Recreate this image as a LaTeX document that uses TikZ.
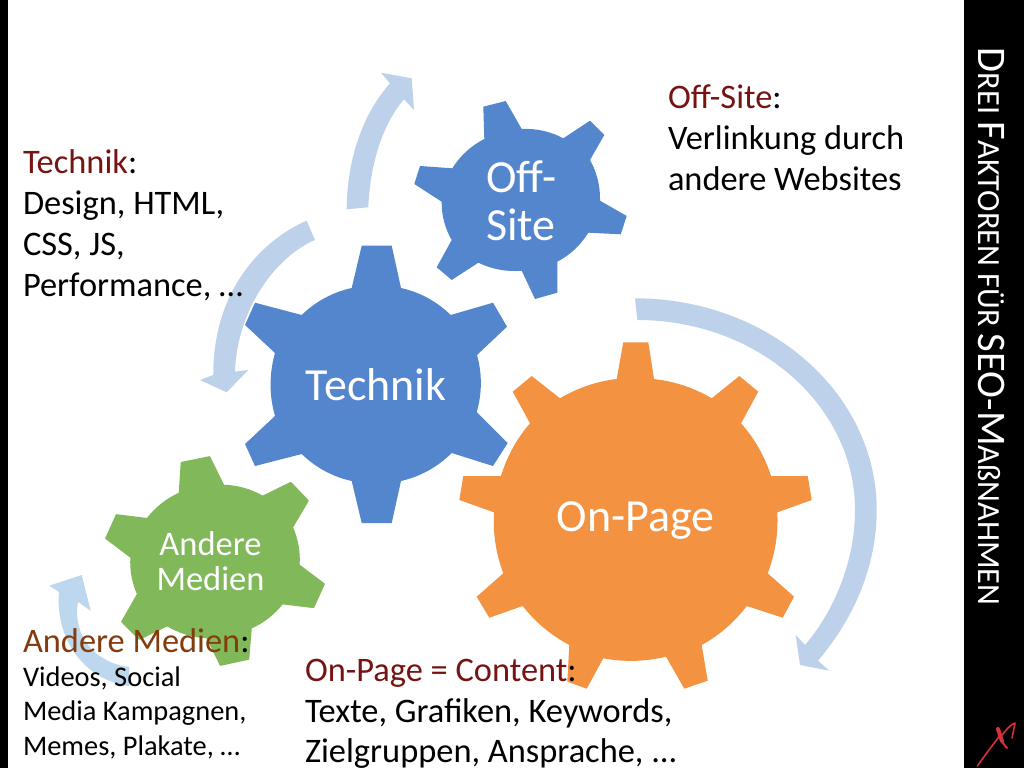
\documentclass[tikz,border=0pt]{standalone}
\usepackage{fontspec}
\setmainfont{Carlito}
\definecolor{gblue}{HTML}{5486CD}
\definecolor{gorange}{HTML}{F39241}
\definecolor{ggreen}{HTML}{80B85A}
\definecolor{arrowblue}{HTML}{BDD1EA}
\definecolor{arrowpale}{HTML}{BDD7EE}
\definecolor{headred}{HTML}{761414}
\definecolor{headbrown}{HTML}{843C0C}
\definecolor{logored}{HTML}{D5303C}
\newcommand{\bigtxt}{\fontsize{34.4}{41}\selectfont}
\newcommand{\smalltxt}{\fontsize{28.4}{34}\selectfont}
\newcommand{\capA}{\fontsize{40.6}{39}\selectfont}
\newcommand{\capB}{\fontsize{32.3}{31}\selectfont}
\tikzset{
  x=1pt,y=-1pt,
  txt/.style={anchor=base west,inner sep=0pt,outer sep=0pt,font=\bigtxt,text=black},
  txts/.style={anchor=base west,inner sep=0pt,outer sep=0pt,font=\smalltxt,text=black},
  geartxt/.style={anchor=base,inner sep=0pt,outer sep=0pt,text=white},
  geartxtl/.style={anchor=base west,inner sep=0pt,outer sep=0pt,text=white},
  sweep/.style={fill=arrowblue},
  sweeppale/.style={fill=arrowpale},
  gtooth/.style={fill=ggreen,draw=ggreen,line width=1.6pt,line join=round},
  logostroke/.style={draw=logored,line cap=round,line join=round},
  rimA/.style={bend left=16,looseness=.87},
  rimB/.style={bend left=15.5,looseness=.87},
  rimC/.style={bend left=12,looseness=.87},
  rimD/.style={bend left=14,looseness=.87},
}
\begin{document}
\begin{tikzpicture}
\useasboundingbox (0,0) rectangle (1024,768);
\fill[white] (0,0) rectangle (1024,768);
\fill[black] (0,0) rectangle (8,768);
\fill[black] (964,0) rectangle (1024,768);

% sweep arrows
\fill[sweep] (346.7,209.3) .. controls (347,160) and (362,115) .. (390,83.3) -- (381,72.7) -- (411.7,78.3) -- (414,110) -- (404,99.3) .. controls (382,125) and (370,165) .. (368.3,207.3) -- cycle;
\fill[sweep] (306.7,220.7) .. controls (262,240) and (213,290) .. (213.3,375) -- (200,380) -- (226.7,392.3) -- (248.3,370) -- (235,371.7) .. controls (237,310) and (275,257) .. (315,240) -- cycle;
\fill[sweep] (635,298.3) .. controls (768.5,298.3) and (876.7,393) .. (876.7,510) .. controls (876.7,565) and (855,617) .. (818,660.7) -- (829.3,670.7) -- (800,665) -- (795.7,635) -- (805,645) .. controls (835,610) and (855,560) .. (855,510) .. controls (855,405) and (757,320) .. (637.3,320) -- cycle;
\fill[sweeppale] (129,686) .. controls (85,680) and (55,640) .. (59,592) -- (49.3,585.7) -- (81.7,575) -- (90.7,610.7) -- (78,602) .. controls (72,635) and (95,663) .. (129,667) -- cycle;

% Technik gear
\fill[gblue] (351.7,288) -- (361.7,245.7) -- (391.7,245.7) -- (401,288)
  to[rimA] (450.7,315) -- (493,302.7) -- (507,326.7) -- (477,355)
  to[rimA] (476.7,412) -- (507.7,443) -- (493,466) -- (451.7,453)
  to[rimA] (401,481) -- (391.7,523) -- (361.7,523) -- (351.7,481)
  to[rimA] (301.7,454) -- (255,466) -- (245,444) -- (275,416)
  to[rimA] (275,353) -- (245,325) -- (255,302.7) -- (301.7,315)
  to[rimA] (351.7,288) -- cycle;

% Off-Site gear
\fill[gblue] (484.3,139) -- (483.3,106.7) -- (505.7,101) -- (521.7,129)
  to[rimB] (563.3,138.3) -- (590,120.7) -- (604.3,135) -- (590,160)
  to[rimB] (600,200.7) -- (626.7,216) -- (620.7,234.3) -- (588.3,232.7)
  to[rimB] (557.3,261.7) -- (557.3,292.7) -- (535,299) -- (521.7,270.7)
  to[rimB] (478.3,262.7) -- (451.7,280) -- (436.7,267.3) -- (451.7,240)
  to[rimB] (441.7,201.7) -- (414.3,184) -- (420,166) -- (452.3,168.3)
  to[rimB] (484.3,139) -- cycle;

% On-Page gear
\fill[gorange] (616.7,379) -- (623.3,342.3) -- (648.3,342.3) -- (654,379)
  to[rimC] (711.7,398.3) -- (739.3,376) -- (758.3,391.7) -- (741,423.3)
  to[rimC] (771,476) -- (807.7,476) -- (811.7,500) -- (777.3,512.3)
  to[rimC] (767.7,573.3) -- (794,596.7) -- (782.7,617.7) -- (746.7,606)
  to[rimC] (701.7,645) -- (707.7,680.7) -- (684.3,688.7) -- (666,656.7)
  to[rimC] (603.3,658.3) -- (586.7,688.7) -- (567.3,681.7) -- (569.3,645)
  to[rimC] (522.7,606) -- (489.3,617.7) -- (476.7,596.7) -- (503.3,573.3)
  to[rimC] (494,512.3) -- (459.3,500) -- (463.3,476) -- (501,476)
  to[rimC] (530,423.3) -- (512.7,391.7) -- (531.7,376) -- (560,398.3)
  to[rimC] (616.7,379) -- cycle;

% Andere Medien gear
\filldraw[gtooth] (179.5,493.3) -- (181.5,462.7) -- (209.5,457) -- (223.5,485.5)
  to[rimD] (262.7,496.5) -- (290.7,482.7) -- (308,500.7) -- (292.2,527.3)
  to[rimD] (298.8,565) -- (324,584) -- (313.5,607.3) -- (282.3,603.5)
  to[rimD] (251,627.8) -- (248.5,659) -- (220.5,665) -- (207,637.5)
  to[rimD] (167.3,625.5) -- (139.3,639) -- (122,621.7) -- (137.8,594)
  to[rimD] (131.2,557.3) -- (106,538.3) -- (116.5,515) -- (147.3,518.8)
  to[rimD] (179.5,493.3) -- cycle;

% gear labels
\node[geartxt,font=\fontsize{46}{46}\selectfont] (technikname) at (376,400) {Technik};
\node[geartxtl,font=\fontsize{46}{46}\selectfont] (offnamea) at (486,192) {Off-};
\node[geartxtl,font=\fontsize{46}{46}\selectfont] (offnameb) at (486,240) {Site};
\node[geartxt,font=\fontsize{46}{46}\selectfont] (onname) at (635.5,531) {On-Page};
\node[geartxt,font=\fontsize{34.5}{34.5}\selectfont] (medname) at (210.5,555) {Andere};
\node[geartxt,font=\fontsize{34.5}{34.5}\selectfont] (mednameb) at (210.5,590) {Medien};

% Technik text
\node[txt] (ta) at (23,173.5) {\textcolor{headred}{Technik}:};
\node[txt] (tb) at (23,214) {Design, HTML,};
\node[txt] (tc) at (23,255) {CSS, JS,};
\node[txt] (td) at (23,296) {Performance, …};

% Off-Site text
\node[txt] (oa) at (668,108.8) {\textcolor{headred}{Off-Site}:};
\node[txt] (ob) at (668,149) {Verlinkung durch};
\node[txt] (oc) at (668,190) {andere Websites};

% On-Page text
\node[txt] (pa) at (305,681) {\textcolor{headred}{On-Page = Content}:};
\node[txt] (pb) at (305,722) {Texte, Grafiken, Keywords,};
\node[txt] (pc) at (305,762.5) {Zielgruppen, Ansprache, ...};

% Andere Medien text
\node[txt] (ma) at (23,652) {\textcolor{headbrown}{Andere Medien}:};
\node[txts] (mb) at (23,686.5) {Videos, Social};
\node[txts] (mc) at (23,720.5) {Media Kampagnen,};
\node[txts] (md) at (23,755) {Memes, Plakate, …};

% side title
\node[anchor=base west,inner sep=0pt,outer sep=0pt,rotate=-90,text=white] (sidetitle) at (978,48)
  {\capA D\capB REI \capA F\capB AKTOREN FÜR \capA SEO-M\capB AßNAHMEN};

% logo
\draw[logostroke,line width=1.6pt] (977.3,766) .. controls (985,755) and (993,745) .. (1000,735);
\draw[logostroke,line width=4pt] (998,729) -- (1002,741);
\draw[logostroke,line width=2pt] (1002,742) -- (1007,748);
\draw[logostroke,line width=1.6pt] (1002,735) .. controls (1006,730) and (1010,725) .. (1015,723) -- (1012,738);
\end{tikzpicture}
\end{document}
